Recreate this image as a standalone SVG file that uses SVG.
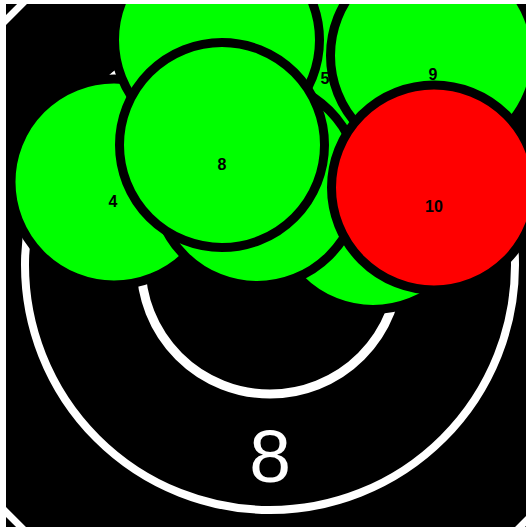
<svg xmlns="http://www.w3.org/2000/svg" width="526" height="527" viewBox="0 0 526 527">
<style>
.ring{fill:none;stroke:#fff}
.hit{stroke:#000;stroke-width:9}
.g{fill:#00ff00}
.r{fill:#ff0000}
.lbl{font-family:"Liberation Sans",Arial,sans-serif;font-size:16px;font-weight:bold;fill:#000;text-anchor:middle}
.big{font-family:"Liberation Sans",Arial,sans-serif;font-size:75px;fill:#fff;text-anchor:middle}
</style>
<defs>
<clipPath id="c"><rect x="6" y="4" width="520" height="523"/></clipPath>
</defs>
<rect width="526" height="527" fill="#fff"/>
<g clip-path="url(#c)">
<g id="target">
<rect x="6" y="4" width="520" height="523" fill="#000"/>
<polygon points="36,-10 506,-10 540,24 540,507 507,540 34,540 -10,496 -10,36" fill="none" stroke="#fff" stroke-width="7"/>
<circle class="ring" cx="270" cy="265" r="245" stroke-width="8"/>
<circle class="ring" cx="270" cy="265" r="129" stroke-width="9"/>
<text class="big" x="270" y="482">8</text>
</g>
<g id="shot-y"><circle class="hit g" cx="373" cy="207" r="102.5"/></g>
<g id="shot-4"><circle class="hit g" cx="114" cy="182" r="103"/><text class="lbl" x="113" y="207">4</text></g>
<g id="shot-5"><circle class="hit g" cx="325" cy="60" r="102.5"/><text class="lbl" x="325" y="84">5</text></g>
<g id="shot-a"><circle class="hit g" cx="217" cy="40" r="102.5"/></g>
<g id="shot-x"><circle class="hit g" cx="257" cy="183" r="102.5"/></g>
<g id="shot-8"><circle class="hit g" cx="222" cy="145" r="102.5"/><text class="lbl" x="222" y="169.5">8</text></g>
<g id="shot-9"><circle class="hit g" cx="433" cy="55.5" r="102.5"/><text class="lbl" x="433" y="80">9</text></g>
<g id="shot-10"><circle class="hit r" cx="434" cy="187.5" r="102.5"/><text class="lbl" x="434" y="212">10</text></g>
</g>
<g id="connectors"/>
</svg>
